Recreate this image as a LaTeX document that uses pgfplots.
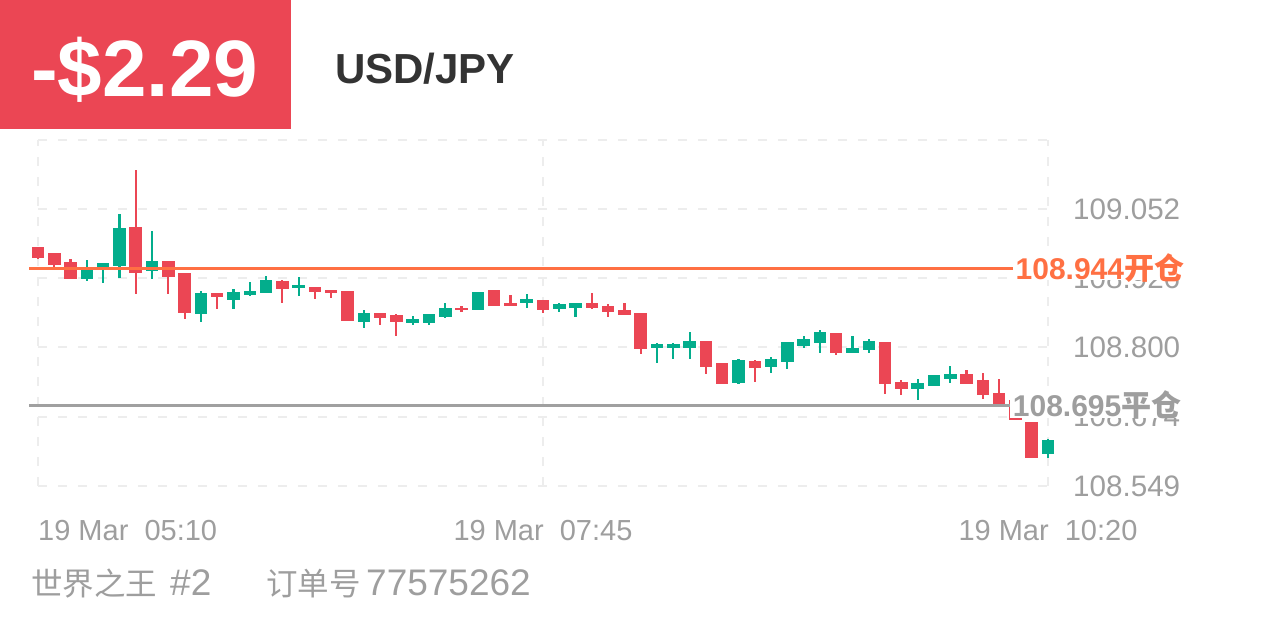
\documentclass[border=0pt]{standalone}
\usepackage{fontspec}
\setmainfont{Liberation Sans}
\newfontfamily\cjk{Noto Sans CJK SC}
\usepackage{pgfplots}
\usepackage{pgfplotstable}
\pgfplotsset{compat=1.18}
\definecolor{cred}{HTML}{EB4654}
\definecolor{cgreen}{HTML}{03AD8C}
\definecolor{corange}{HTML}{FF7043}
\definecolor{cline}{HTML}{A0A0A0}
\definecolor{labgray}{HTML}{9E9E9E}
\definecolor{gridc}{HTML}{EDEDED}
\definecolor{titlec}{HTML}{333333}

\pgfplotstableread{
x o h l c
0 108.983 108.985 108.962 108.963
1 108.973 108.973 108.945 108.951
2 108.956 108.962 108.925 108.925
6 109.020 109.123 108.898 108.936
8 108.958 108.958 108.898 108.929
9 108.936 108.936 108.853 108.863
11 108.900 108.900 108.871 108.893
15 108.923 108.923 108.882 108.907
17 108.911 108.911 108.889 108.902
18 108.905 108.905 108.891 108.900
19 108.903 108.903 108.849 108.849
21 108.863 108.863 108.842 108.854
22 108.860 108.862 108.822 108.847
26 108.873 108.878 108.867 108.869
28 108.907 108.907 108.878 108.878
29 108.883 108.896 108.878 108.878
31 108.887 108.887 108.863 108.869
34 108.882 108.900 108.871 108.873
35 108.878 108.880 108.856 108.867
36 108.869 108.882 108.860 108.860
37 108.863 108.863 108.789 108.798
41 108.814 108.814 108.754 108.767
42 108.774 108.774 108.736 108.736
44 108.778 108.778 108.738 108.765
49 108.827 108.827 108.787 108.791
52 108.811 108.811 108.718 108.734
53 108.738 108.742 108.714 108.725
57 108.753 108.760 108.736 108.736
58 108.742 108.754 108.707 108.714
59 108.718 108.743 108.696 108.696
60 108.705 108.705 108.669 108.669
61 108.667 108.667 108.602 108.602
}\redtab

\pgfplotstableread{
x o h l c
3 108.925 108.960 108.923 108.947
4 108.945 108.954 108.918 108.954
5 108.949 109.043 108.927 109.018
7 108.940 109.014 108.927 108.958
10 108.863 108.902 108.847 108.900
12 108.887 108.907 108.871 108.902
13 108.898 108.920 108.894 108.905
14 108.900 108.931 108.900 108.923
16 108.909 108.929 108.896 108.914
20 108.847 108.869 108.836 108.863
23 108.845 108.860 108.843 108.853
24 108.845 108.863 108.843 108.862
25 108.856 108.883 108.856 108.873
27 108.869 108.903 108.869 108.903
30 108.882 108.898 108.873 108.889
32 108.871 108.882 108.865 108.880
33 108.873 108.882 108.856 108.882
38 108.800 108.809 108.773 108.807
39 108.800 108.809 108.780 108.807
40 108.800 108.829 108.780 108.814
43 108.736 108.780 108.736 108.778
45 108.765 108.783 108.754 108.780
46 108.774 108.811 108.762 108.811
47 108.803 108.822 108.800 108.816
48 108.809 108.833 108.791 108.829
50 108.791 108.822 108.791 108.800
51 108.796 108.816 108.791 108.814
54 108.725 108.745 108.707 108.736
55 108.731 108.751 108.731 108.751
56 108.743 108.769 108.738 108.753
62 108.607 108.634 108.600 108.633
}\greentab

\pgfplotsset{
  candle/.style n args={2}{draw=none, no markers, forget plot,
    error bars/.cd, y dir=both, y explicit, error mark=none,
    error bar style={line width=#2, draw=#1, solid}},
}

\begin{document}
\begin{tikzpicture}
\path[use as bounding box, fill=white] (0,0) rectangle (1266bp,633bp);
\begin{axis}[
  at={(38bp,147bp)}, anchor=south west,
  scale only axis, width=1010bp, height=346.5bp,
  xmin=0, xmax=62, ymin=108.549, ymax=109.178,
  axis line style={draw=none},
  xtick={0,31,62}, xticklabels={,,},
  ytick={108.549,108.67475,108.8005,108.92625,109.052,109.178},
  yticklabels={108.549,108.674,108.800,108.926,109.052,{}},
  yticklabel pos=right,
  major tick length=0pt,
  yticklabel style={font=\fontsize{29.6bp}{30bp}\selectfont, text=labgray, inner sep=0pt, anchor=west, xshift=25bp},
  grid=major,
  major grid style={draw=gridc, line width=2bp, dash pattern=on 9bp off 11bp},
  clip=false,
]
% wicks
\addplot[candle={cred}{2.2bp}]
  table[x=x, y expr={(\thisrow{h}+\thisrow{l})/2}, y error expr={(\thisrow{h}-\thisrow{l})/2}] {\redtab};
\addplot[candle={cgreen}{2.2bp}]
  table[x=x, y expr={(\thisrow{h}+\thisrow{l})/2}, y error expr={(\thisrow{h}-\thisrow{l})/2}] {\greentab};
% bodies
\addplot[candle={cred}{12.5bp}]
  table[x=x, y expr={(\thisrow{o}+\thisrow{c})/2}, y error expr={abs(\thisrow{o}-\thisrow{c})/2}] {\redtab};
\addplot[candle={cgreen}{12.5bp}]
  table[x=x, y expr={(\thisrow{o}+\thisrow{c})/2}, y error expr={abs(\thisrow{o}-\thisrow{c})/2}] {\greentab};
% open / close lines
\addplot[corange, line width=3bp, no markers, forget plot] coordinates {(-0.55,108.944) (59.9,108.944)};
\addplot[cline, line width=3bp, no markers, forget plot] coordinates {(-0.55,108.695) (59.7,108.695)};
\coordinate (openL) at (axis cs:59.85,108.944);
\coordinate (closeL) at (axis cs:59.68,108.695);
\end{axis}

\node[anchor=west, fill=white, inner xsep=2.5bp, inner ysep=0pt, text height=22.75bp, text depth=1.25bp,
  text=corange, font=\fontsize{30bp}{30bp}\selectfont\bfseries] at (openL) {108.944{\cjk\bfseries 开仓}};
\node[anchor=west, fill=white, inner xsep=2.5bp, inner ysep=0pt, text height=22.75bp, text depth=1.25bp,
  text=labgray, font=\fontsize{30bp}{30bp}\selectfont\bfseries] at (closeL) {108.695{\cjk\bfseries 平仓}};

\begin{scope}[x=1bp, y=-1bp, shift={(0,633bp)}]
  \fill[cred] (0,0) rectangle (291,129);
  \node[anchor=base west, inner sep=0pt, text=white, font=\fontsize{80bp}{80bp}\selectfont\bfseries] at (31,97) {-\$2.29};
  \node[anchor=base west, inner sep=0pt, text=titlec, font=\fontsize{42bp}{42bp}\selectfont\bfseries] at (335,84) {USD/JPY};
  % time labels
  \node[anchor=base west, inner sep=0pt, text=labgray, font=\fontsize{29bp}{29bp}\selectfont] at (38,541) {19 Mar~~05:10};
  \node[anchor=base, inner sep=0pt, text=labgray, font=\fontsize{29bp}{29bp}\selectfont] at (543,541) {19 Mar~~07:45};
  \node[anchor=base, inner sep=0pt, text=labgray, font=\fontsize{29bp}{29bp}\selectfont] at (1048,541) {19 Mar~~10:20};
  % footer
  \node[anchor=base west, inner sep=0pt, text=labgray, font=\fontsize{31.5bp}{32bp}\selectfont\cjk] at (31,596) {世界之王};
  \node[anchor=base west, inner sep=0pt, text=labgray, font=\fontsize{37bp}{37bp}\selectfont] at (170,596) {\#2};
  \node[anchor=base west, inner sep=0pt, text=labgray, font=\fontsize{31.5bp}{32bp}\selectfont\cjk] at (266,596) {订单号};
  \node[anchor=base west, inner sep=0pt, text=labgray, font=\fontsize{37bp}{37bp}\selectfont] at (366,596) {77575262};
\end{scope}
\end{tikzpicture}
\end{document}
